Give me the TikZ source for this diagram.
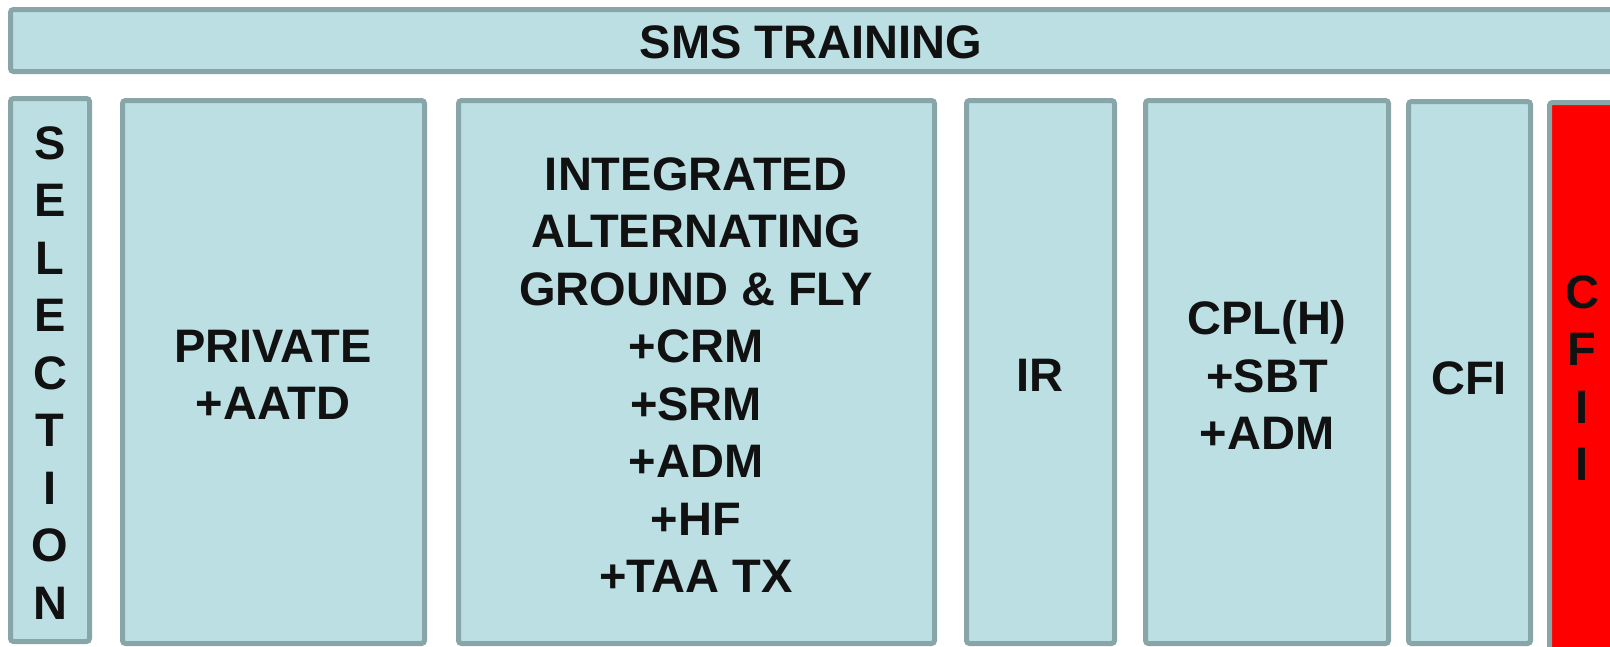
\documentclass[tikz,border=0pt]{standalone}
\usepackage{fontspec}
\setmainfont{Liberation Sans}
\definecolor{boxfill}{RGB}{187,223,227}
\definecolor{boxline}{RGB}{136,165,168}
\definecolor{boxred}{RGB}{255,0,0}
\definecolor{txtblack}{RGB}{17,17,17}

\begin{document}
\begin{tikzpicture}[x=1pt,y=-1pt]
	\tikzstyle{every node}=[font=\fontsize{47}{57.5}\selectfont\bfseries, text=txtblack, align=center, inner sep=0pt]
	\tikzstyle{box}=[draw=boxline, fill=boxfill, line width=5pt, rounded corners=3]
	
	\useasboundingbox (0,0) rectangle (1610,646);
	\clip (0,0) rectangle (1610,646);
	
	\draw [box] (10.5,9.5) rectangle (1640,71.5); % banner runs off the right edge
	\node (title) at (811,42) {SMS TRAINING};
	
	\draw [box] (10.5,98.5) rectangle (89.5,641.5);
	\node (selection) at (50,373) {S\\E\\L\\E\\C\\T\\I\\O\\N};
	
	\draw [box] (122.5,100.5) rectangle (424.5,643.5);
	\node (private) at (273,375) {PRIVATE\\+AATD};
	
	\draw [box] (458.5,100.5) rectangle (934.5,643.5);
	\node (integrated) at (696,375)
	{INTEGRATED\\ALTERNATING\\GROUND \& FLY\\+CRM\\+SRM\\+ADM\\+HF\\+TAA TX};
	
	\draw [box] (966.5,100.5) rectangle (1114.5,643.5);
	\node (ir) at (1040,375) {IR};
	
	\draw [box] (1145.5,100.5) rectangle (1388.5,643.5);
	\node (cpl) at (1267,375) {CPL(H)\\+SBT\\+ADM};
	
	\draw [box] (1408.5,101.5) rectangle (1530.5,643.5);
	\node (cfi) at (1469,378) {CFI};
	
	\draw [box, fill=boxred] (1549.5,102.5) rectangle (1660,680); % red box, cut by the page
	\node (cfii) at (1582,378) {C\\F\\I\\I};
\end{tikzpicture}
\end{document}
